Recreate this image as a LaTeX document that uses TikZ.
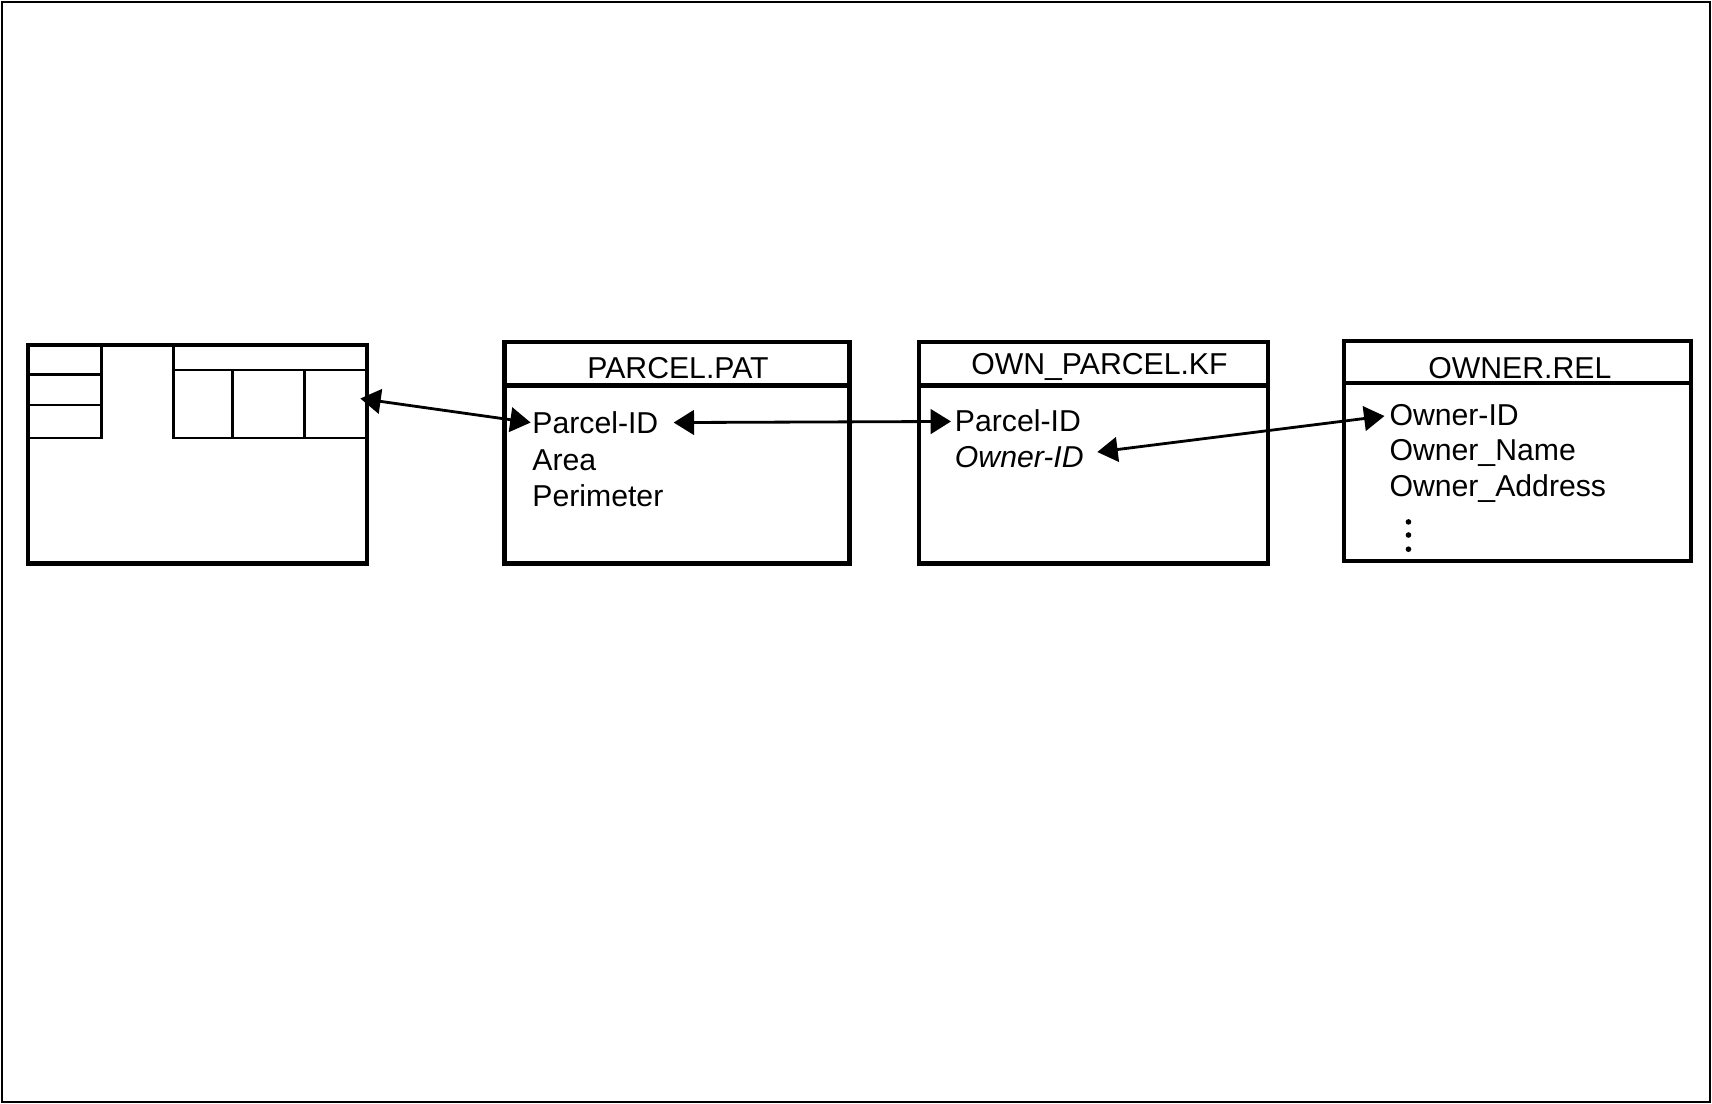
\documentclass[tikz,border=0pt]{standalone}
\usepackage{fontspec}
\setmainfont{Liberation Sans}
\usetikzlibrary{arrows.meta}
\begin{document}
\begin{tikzpicture}[x=0.010918cm,y=-0.010918cm,
  tbl/.style={draw,line width=1.2pt},
  grid/.style={line width=0.7pt},
  lbl/.style={anchor=base west,inner sep=0pt,font=\fontsize{8.6pt}{10pt}\selectfont},
  ttl/.style={anchor=base,inner sep=0pt,font=\fontsize{8.6pt}{10pt}\selectfont},
  link/.style={line width=0.8pt,{Triangle[length=5.8pt,width=7pt]}-{Triangle[length=5.8pt,width=7pt]}}]
\useasboundingbox (0,0) rectangle (1568,1011);
\draw[line width=0.6pt] (1.5,1.5) rectangle (1566.5,1009.5);

% map box
\draw[tbl] (26,316) coordinate (mapNW) rectangle (336,516) coordinate (mapSE);
\draw[grid] (26,343) -- (93,343);
\draw[grid] (26,371) -- (93,371);
\draw[grid] (26,401) -- (93,401) -- (93,316);
\draw[grid] (159,316) -- (159,401) -- (336,401);
\draw[grid] (159,339) -- (336,339);
\draw[grid] (213,339) -- (213,401);
\draw[grid] (279,339) -- (279,401);

% PARCEL.PAT
\draw[tbl] (462,313) coordinate (patNW) rectangle (778,516) coordinate (patSE);
\draw[tbl] (462,353) -- (778,353);
\node[ttl] (patT) at (621,347) {PARCEL.PAT};
\node[lbl] (patA) at (487,397) {Parcel-ID};
\node[lbl] (patB) at (487,431) {Area};
\node[lbl] (patC) at (487,464) {Perimeter};

% OWN_PARCEL.KF
\draw[tbl] (842,313) coordinate (kfNW) rectangle (1161,516) coordinate (kfSE);
\draw[tbl] (842,353) -- (1161,353);
\node[ttl] (kfT) at (1007,343) {OWN\_PARCEL.KF};
\node[lbl] (kfA) at (874,395) {Parcel-ID};
\node[lbl,font=\fontsize{8.6pt}{10pt}\selectfont\itshape] (kfB) at (874,428) {Owner-ID};

% OWNER.REL
\draw[tbl] (1231,312) coordinate (relNW) rectangle (1549,514) coordinate (relSE);
\draw[tbl] (1231,351) -- (1549,351);
\node[ttl] (relT) at (1392,347) {OWNER.REL};
\node[lbl] (relA) at (1272,390) {Owner-ID};
\node[lbl] (relB) at (1272,422) {Owner\_Name};
\node[lbl] (relC) at (1272,455) {Owner\_Address};
\fill (1290,478) circle (0.8pt);
\fill (1290,490) circle (0.8pt);
\fill (1290,503) circle (0.8pt);

% connectors
\coordinate (mapEnd) at (330,365);
\coordinate (patIn) at (486,387);
\coordinate (patOut) at (617,387);
\coordinate (kfIn) at (871,386);
\coordinate (kfOut) at (1005,414);
\coordinate (relIn) at (1268,381);
\draw[link] (mapEnd) -- (patIn);
\draw[link] (patOut) -- (kfIn);
\draw[link] (kfOut) -- (relIn);
\end{tikzpicture}
\end{document}
